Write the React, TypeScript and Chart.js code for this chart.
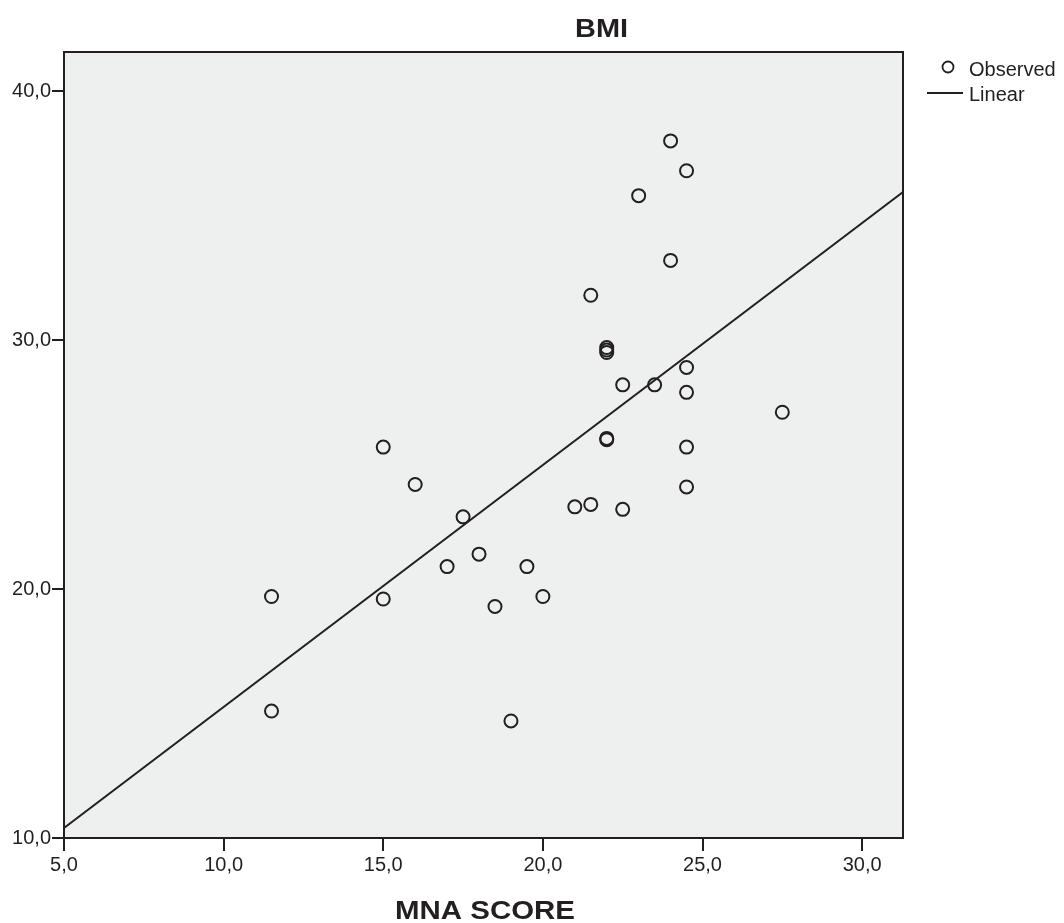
import React, { useEffect, useRef } from "react";
import { Chart, registerables } from "chart.js";

Chart.register(...registerables);

const mnaScore = [11.5, 11.5, 15.0, 15.0, 16.0, 17.5, 17.0, 18.0, 18.5, 19.0, 19.5, 20.0, 21.0, 21.5, 21.5, 22.0, 22.0, 22.0, 22.0, 22.0, 22.5, 22.5, 23.0, 23.5, 24.0, 24.0, 24.5, 24.5, 24.5, 24.5, 24.5, 27.5];
const bmi = [19.7, 15.1, 25.7, 19.6, 24.2, 22.9, 20.9, 21.4, 19.3, 14.7, 20.9, 19.7, 23.3, 23.4, 31.8, 29.7, 29.6, 29.5, 26.0, 26.05, 28.2, 23.2, 35.8, 28.2, 38.0, 33.2, 36.8, 28.9, 27.9, 25.7, 24.1, 27.1];

const fitIntercept = 5.54;
const fitSlope = 0.972;

const xTicks = [5, 10, 15, 20, 25, 30];
const yTicks = [10, 20, 30, 40];
const xMin = 5;
const xMax = 31.28;
const yMin = 10;
const yMax = 41.57;

const titleText = "BMI";
const xTitleText = "MNA SCORE";
const legendLabels = ["Observed", "Linear"];

const INK = "#231f20";
const FONT = "'Liberation Sans', Arial, sans-serif";

const fmt = (v: number) => v.toFixed(1).replace(".", ",");

function stretchedText(ctx: any, text: string, cx: number, baseline: number, width: number) {
  const w = ctx.measureText(text).width;
  const sx = width / w;
  ctx.save();
  ctx.translate(cx, baseline);
  ctx.scale(sx, 1);
  ctx.textAlign = "center";
  ctx.textBaseline = "alphabetic";
  ctx.fillText(text, 0, 0);
  ctx.restore();
}

const decor = {
  id: "decor",
  beforeDraw(chart: any) {
    const { ctx, chartArea: a } = chart;
    ctx.save();
    ctx.fillStyle = "#eef0ef";
    ctx.fillRect(a.left, a.top, a.right - a.left, a.bottom - a.top);
    ctx.restore();
  },
  afterDraw(chart: any) {
    const { ctx, chartArea: a } = chart;
    ctx.save();
    ctx.strokeStyle = INK;
    ctx.lineWidth = 2;
    ctx.strokeRect(a.left, a.top, a.right - a.left, a.bottom - a.top);
    ctx.fillStyle = INK;
    ctx.font = `bold 26px ${FONT}`;
    stretchedText(ctx, titleText, 601.5, 37, 53);
    ctx.font = `bold 25px ${FONT}`;
    stretchedText(ctx, xTitleText, 485, 919, 180);
    // legend
    ctx.font = `20px ${FONT}`;
    ctx.textAlign = "left";
    ctx.textBaseline = "alphabetic";
    ctx.beginPath();
    ctx.arc(948, 67, 5.5, 0, Math.PI * 2);
    ctx.lineWidth = 1.8;
    ctx.stroke();
    ctx.fillText(legendLabels[0], 969, 76);
    ctx.beginPath();
    ctx.moveTo(927, 93);
    ctx.lineTo(963, 93);
    ctx.lineWidth = 2;
    ctx.stroke();
    ctx.fillText(legendLabels[1], 969, 101);
    ctx.restore();
  },
};

export default function App() {
  const ref = useRef<HTMLCanvasElement | null>(null);
  useEffect(() => {
    if (!ref.current) return;
    const points = mnaScore.map((x, i) => ({ x, y: bmi[i] }));
    const fitLine = [xMin, xMax].map((x) => ({ x, y: fitIntercept + fitSlope * x }));
    const chart = new Chart(ref.current, {
      type: "scatter",
      data: {
        datasets: [
          {
            label: legendLabels[1],
            type: "line",
            data: fitLine,
            borderColor: INK,
            borderWidth: 2,
            pointRadius: 0,
            fill: false,
            order: 1,
          } as any,
          {
            label: legendLabels[0],
            data: points,
            pointRadius: 6.5,
            pointHoverRadius: 6.5,
            pointBorderWidth: 2,
            pointBorderColor: INK,
            pointBackgroundColor: "rgba(0,0,0,0)",
            order: 0,
          },
        ],
      },
      options: {
        animation: false,
        responsive: false,
        maintainAspectRatio: false,
        layout: { padding: { left: 0, top: 52, right: 1064 - 903, bottom: 0 } },
        plugins: { legend: { display: false }, title: { display: false }, tooltip: { enabled: false } },
        scales: {
          x: {
            type: "linear",
            min: xMin,
            max: xMax,
            afterBuildTicks: (s: any) => {
              s.ticks = xTicks.map((v) => ({ value: v }));
            },
            afterFit: (s: any) => {
              s.height = 923 - 838;
            },
            grid: { display: true, drawOnChartArea: false, color: INK, lineWidth: 2, tickLength: 13 },
            border: { display: true, color: INK, width: 2 },
            ticks: {
              color: INK,
              font: { family: FONT, size: 20 },
              padding: 2,
              maxRotation: 0,
              autoSkip: false,
              callback: (v: any) => fmt(Number(v)),
            },
          },
          y: {
            type: "linear",
            min: yMin,
            max: yMax,
            afterBuildTicks: (s: any) => {
              s.ticks = yTicks.map((v) => ({ value: v }));
            },
            afterFit: (s: any) => {
              s.width = 64;
            },
            grid: { display: true, drawOnChartArea: false, color: INK, lineWidth: 2, tickLength: 12 },
            border: { display: true, color: INK, width: 2 },
            ticks: {
              color: INK,
              font: { family: FONT, size: 20 },
              padding: 1,
              autoSkip: false,
              callback: (v: any) => fmt(Number(v)),
            },
          },
        },
      },
      plugins: [decor],
    });
    return () => chart.destroy();
  }, []);
  return (
    <div style={{ position: "fixed", left: 0, top: 0, width: 1064, height: 923, background: "#fff" }}>
      <canvas ref={ref} width={1064} height={923} style={{ width: 1064, height: 923 }} />
    </div>
  );
}
